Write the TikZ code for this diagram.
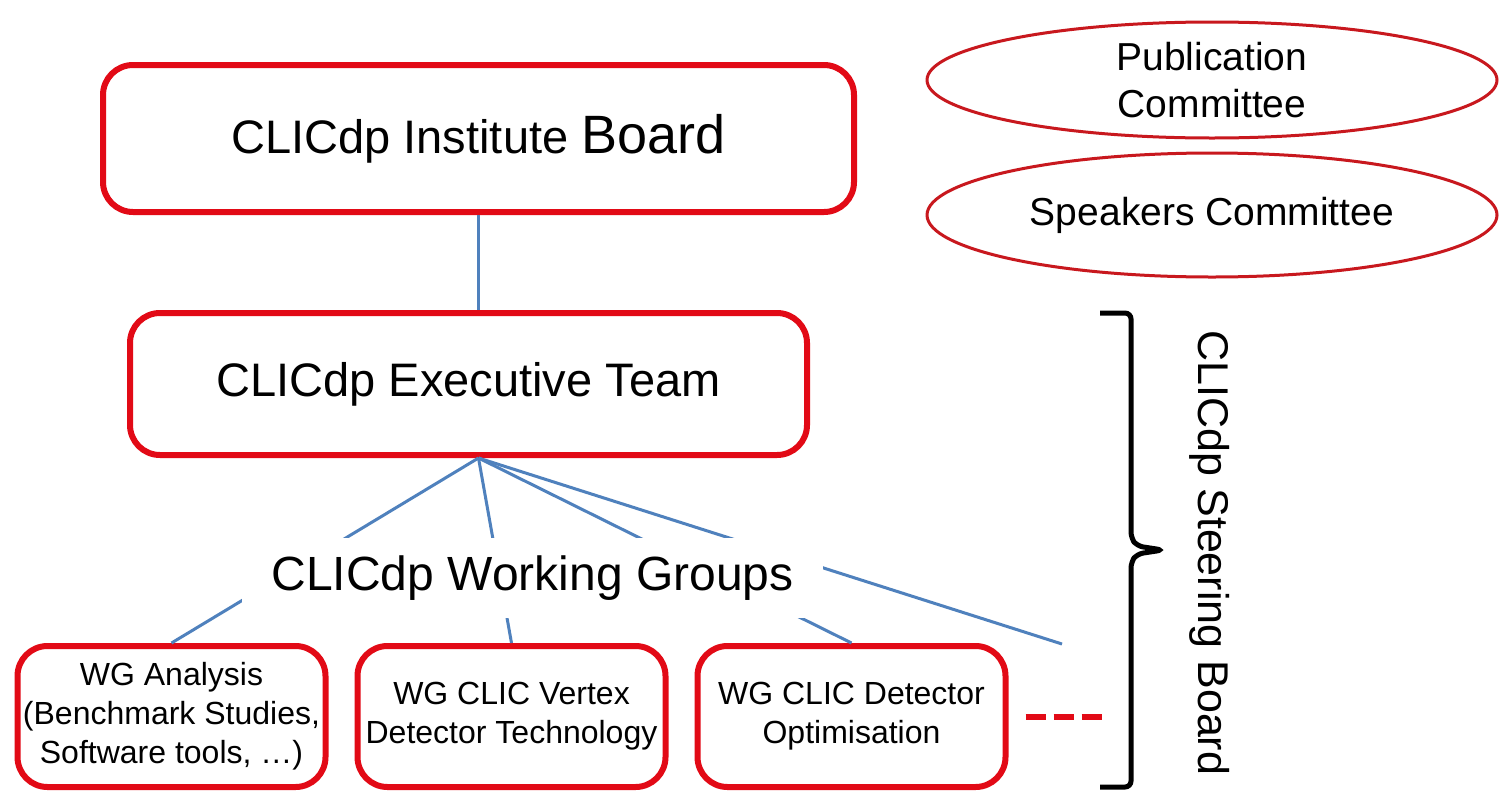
\documentclass[tikz,border=0pt]{standalone}
\usepackage{fontspec}
\setmainfont{Liberation Sans}
\usepackage{tikz}
\usetikzlibrary{positioning,shapes.geometric}
\definecolor{boxred}{RGB}{226,10,22}
\definecolor{ovalred}{RGB}{200,24,30}
\definecolor{linkblue}{RGB}{79,129,189}

\begin{document}
\begin{tikzpicture}[x=0.5pt, y=-0.5pt,
            board/.style={rectangle, draw=boxred, line width=3pt, rounded corners=15pt,
            align=center, text=black},
            wgbox/.style={board, minimum width=154pt, minimum height=70.5pt, inner sep=1pt,
            font=\fontsize{16}{19.5}\selectfont},
            committee/.style={ellipse, draw=ovalred, line width=1.5pt, minimum width=285pt,
            inner sep=0pt, align=center, font=\fontsize{19.5}{23.5}\selectfont},
            link/.style={draw=linkblue, line width=1.5pt}]
            \path [fill=white, use as bounding box] (0,0) rectangle (1499,793);

            \node (inst) [board, minimum width=375.5pt, minimum height=73.5pt,
            font=\fontsize{23.5}{28}\selectfont] at (478.5,138.5)
            {CLICdp Institute {\fontsize{27}{30}\selectfont Board}};

            \node (exec) [board, minimum width=338.5pt, minimum height=71pt,
            font=\fontsize{23.5}{28}\selectfont] at (468.5,384) {CLICdp Executive Team};

            \node (ana) [wgbox] at (171.5,716.5)
            {
                WG Analysis \\ (Benchmark Studies, \\ Software tools, …)
            };
            \node (vtx) [wgbox, right=13pt of ana] {WG CLIC Vertex \\ Detector Technology};
            \node (opt) [wgbox, right=13pt of vtx] {WG CLIC Detector \\ Optimisation};

            \node (pub) [committee, minimum height=58pt] at (1212,80) {Publication \\ Committee};
            \node (spk) [committee, minimum height=62pt, below=6pt of pub] {Speakers Committee};

            \coordinate (fan) at (inst.south |- exec.south);
            \coordinate (more) at (1062,644);

            \draw [link] (inst.south) -- (inst.south |- exec.north);
            \draw [link] (fan) -- (ana.north);
            \draw [link] (fan) -- (vtx.north);
            \draw [link] (fan) -- (opt.north);
            \draw [link] (fan) -- (more);

            \node (groups) [fill=white, minimum width=290.5pt, minimum height=40pt, inner sep=0pt,
            font=\fontsize{24}{28}\selectfont] at (532.5,578) {CLICdp Working Groups};

            \draw [boxred, line width=3pt, dash pattern=on 10pt off 4pt]
            ([xshift=8.5pt]opt.east) -- ++(76,0);

            \draw [line width=2.5pt, rounded corners=3pt] (1100,313) -- (1131,313) -- (1131,538)
            -- (1137,546) -- (1163,550) -- (1137,554) -- (1131,562) -- (1131,787) -- (1100,787);

            \node (steer) [rotate=-90, font=\fontsize{21.5}{25}\selectfont] at (1210,553)
            {CLICdp Steering Board};
        \end{tikzpicture}
\end{document}
